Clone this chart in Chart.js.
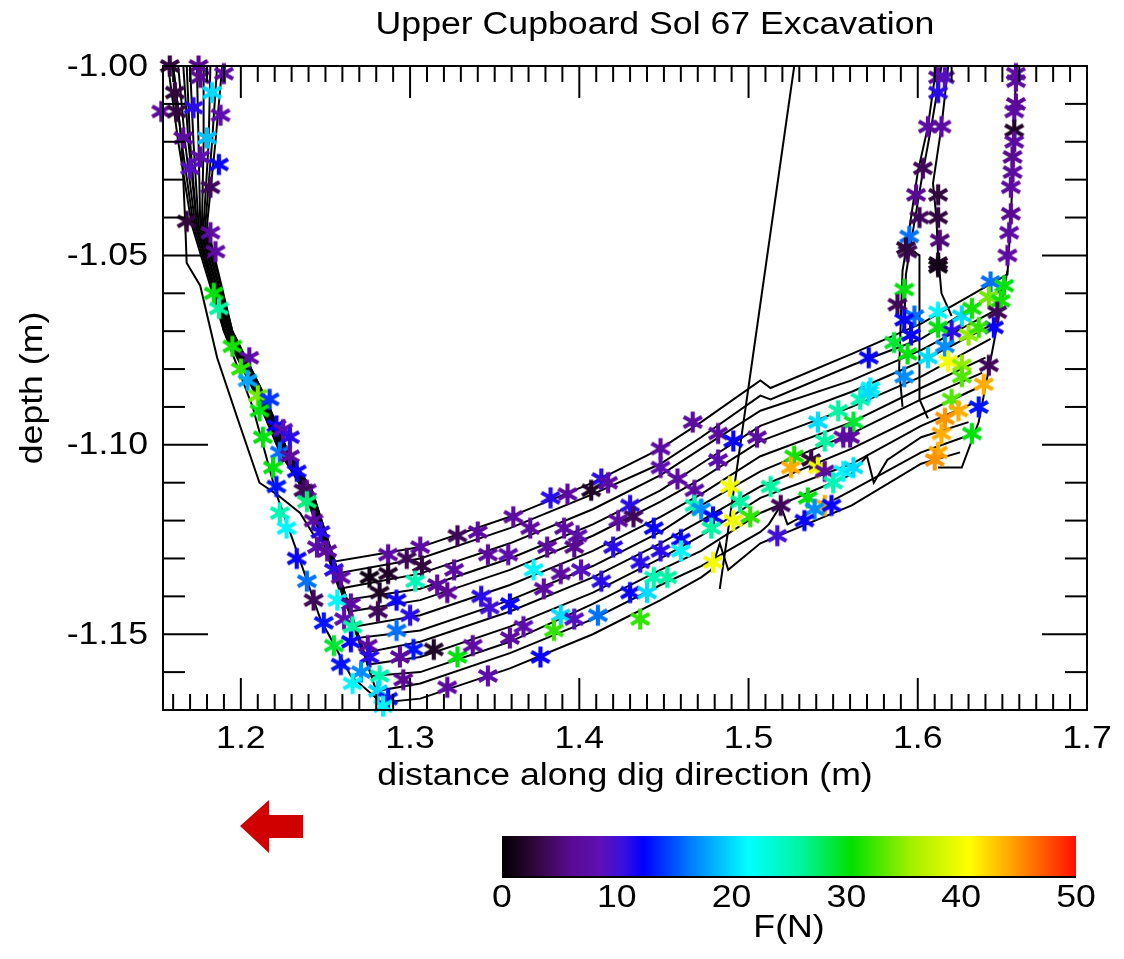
<!DOCTYPE html>
<html>
<head>
<meta charset="utf-8">
<script src="https://cdn.jsdelivr.net/npm/chart.js@4.4.1/dist/chart.umd.min.js"></script>
<style>
  html, body { margin: 0; padding: 0; background: #fff; }
</style>
</head>
<body>
<canvas id="digChart" width="1124" height="959"></canvas>
<script>
// axis ticks
const xTickLabels = [1.2, 1.3, 1.4, 1.5, 1.6, 1.7];
const yTickLabels = [-1.00, -1.05, -1.10, -1.15];
const forceTickLabels = [0, 10, 20, 30, 40, 50];

// scoop trajectories [distance, depth]
const pass0 = [[1.160,-1.000],[1.165,-1.020],[1.167,-1.040],[1.168,-1.052],[1.176,-1.058],[1.186,-1.077],[1.198,-1.093],[1.211,-1.110],[1.221,-1.113],[1.235,-1.118],[1.253,-1.131],[1.306,-1.127],[1.359,-1.119],[1.408,-1.110],[1.448,-1.101],[1.472,-1.094],[1.507,-1.083],[1.513,-1.085],[1.561,-1.076],[1.602,-1.068],[1.653,-1.055],[1.655,-1.040],[1.657,-1.020],[1.658,-1.000]];
const pass1 = [[1.157,-1.000],[1.163,-1.020],[1.171,-1.042],[1.190,-1.070],[1.209,-1.087],[1.223,-1.102],[1.237,-1.112],[1.256,-1.134],[1.306,-1.130],[1.359,-1.122],[1.408,-1.113],[1.448,-1.105],[1.472,-1.098],[1.507,-1.087],[1.513,-1.088],[1.561,-1.079],[1.602,-1.072],[1.650,-1.059]];
const pass2 = [[1.160,-1.000],[1.165,-1.020],[1.172,-1.042],[1.191,-1.070],[1.210,-1.087],[1.224,-1.102],[1.238,-1.112],[1.258,-1.138],[1.306,-1.134],[1.359,-1.126],[1.408,-1.117],[1.448,-1.108],[1.472,-1.101],[1.507,-1.091],[1.561,-1.083],[1.602,-1.075],[1.648,-1.064]];
const pass3 = [[1.163,-1.000],[1.167,-1.020],[1.173,-1.042],[1.192,-1.070],[1.211,-1.087],[1.225,-1.102],[1.239,-1.112],[1.261,-1.141],[1.306,-1.138],[1.359,-1.130],[1.408,-1.121],[1.448,-1.112],[1.472,-1.105],[1.507,-1.095],[1.561,-1.086],[1.602,-1.078],[1.645,-1.068]];
const pass4 = [[1.166,-1.000],[1.169,-1.020],[1.174,-1.042],[1.192,-1.070],[1.211,-1.087],[1.225,-1.102],[1.239,-1.112],[1.264,-1.144],[1.306,-1.141],[1.359,-1.133],[1.408,-1.124],[1.448,-1.115],[1.472,-1.109],[1.507,-1.099],[1.561,-1.090],[1.602,-1.082],[1.643,-1.072]];
const pass5 = [[1.170,-1.000],[1.172,-1.020],[1.175,-1.042],[1.193,-1.070],[1.212,-1.087],[1.226,-1.102],[1.240,-1.112],[1.267,-1.148],[1.306,-1.145],[1.359,-1.137],[1.408,-1.128],[1.448,-1.119],[1.472,-1.113],[1.507,-1.103],[1.561,-1.094],[1.602,-1.085],[1.640,-1.077]];
const pass6 = [[1.174,-1.000],[1.175,-1.020],[1.176,-1.042],[1.193,-1.070],[1.212,-1.087],[1.226,-1.102],[1.240,-1.112],[1.269,-1.151],[1.306,-1.149],[1.359,-1.141],[1.408,-1.132],[1.448,-1.123],[1.472,-1.116],[1.507,-1.107],[1.561,-1.097],[1.602,-1.088],[1.638,-1.081]];
const pass7 = [[1.178,-1.000],[1.178,-1.020],[1.177,-1.042],[1.194,-1.070],[1.213,-1.087],[1.227,-1.102],[1.241,-1.112],[1.272,-1.155],[1.306,-1.152],[1.359,-1.144],[1.408,-1.135],[1.448,-1.126],[1.472,-1.120],[1.507,-1.111],[1.561,-1.101],[1.602,-1.092],[1.635,-1.085]];
const pass8 = [[1.182,-1.000],[1.181,-1.020],[1.178,-1.042],[1.194,-1.070],[1.213,-1.087],[1.227,-1.102],[1.241,-1.112],[1.275,-1.158],[1.306,-1.156],[1.359,-1.148],[1.408,-1.139],[1.448,-1.130],[1.472,-1.124],[1.507,-1.114],[1.561,-1.105],[1.602,-1.095],[1.633,-1.089]];
const pass9 = [[1.186,-1.000],[1.183,-1.020],[1.179,-1.042],[1.195,-1.070],[1.214,-1.087],[1.228,-1.102],[1.242,-1.112],[1.277,-1.161],[1.306,-1.160],[1.359,-1.152],[1.408,-1.142],[1.448,-1.133],[1.472,-1.128],[1.507,-1.118],[1.560,-1.108],[1.570,-1.103],[1.574,-1.110],[1.582,-1.104],[1.602,-1.098],[1.630,-1.094]];
const pass10 = [[1.189,-1.000],[1.185,-1.020],[1.180,-1.042],[1.195,-1.070],[1.214,-1.087],[1.228,-1.102],[1.242,-1.112],[1.280,-1.165],[1.306,-1.163],[1.359,-1.155],[1.408,-1.146],[1.448,-1.137],[1.472,-1.132],[1.507,-1.123],[1.512,-1.121],[1.519,-1.116],[1.523,-1.121],[1.561,-1.112],[1.602,-1.102],[1.627,-1.098]];
const pass11 = [[1.168,-1.000],[1.170,-1.020],[1.174,-1.042],[1.190,-1.070],[1.207,-1.090],[1.221,-1.113],[1.233,-1.128],[1.247,-1.146],[1.265,-1.161],[1.283,-1.168],[1.306,-1.167],[1.359,-1.159],[1.408,-1.150],[1.448,-1.141],[1.472,-1.135],[1.478,-1.133],[1.483,-1.126],[1.488,-1.133],[1.507,-1.126],[1.561,-1.116],[1.602,-1.105],[1.625,-1.102]];
const retractA = [[1.611,-1.000],[1.606,-1.016],[1.600,-1.028],[1.594,-1.046],[1.591,-1.054],[1.590,-1.067],[1.589,-1.080],[1.591,-1.090]];
const retractA2 = [[1.614,-1.000],[1.608,-1.016],[1.603,-1.028],[1.597,-1.044],[1.593,-1.055],[1.592,-1.068]];
const retractB = [[1.618,-1.000],[1.614,-1.016],[1.609,-1.031],[1.611,-1.040],[1.612,-1.050],[1.614,-1.060],[1.620,-1.066]];
const retractC = [[1.594,-1.048],[1.601,-1.050],[1.601,-1.070],[1.601,-1.088],[1.606,-1.093]];
const rightWall = [[1.612,-1.106],[1.626,-1.106],[1.636,-1.094],[1.645,-1.073],[1.653,-1.054]];
const straightPath = [[1.527,-1.000],[1.483,-1.138]];

// force samples [distance, depth, F(N)]
const topLeftStars = [[1.158,-1.000,3],[1.175,-1.000,6],[1.190,-1.002,7],[1.183,-1.007,20],[1.153,-1.012,7],[1.162,-1.012,3],[1.172,-1.011,11],[1.188,-1.013,8],[1.166,-1.019,7],[1.180,-1.019,19],[1.176,-1.024,8],[1.187,-1.026,12],[1.170,-1.027,9],[1.182,-1.032,4],[1.168,-1.041,3],[1.182,-1.044,7],[1.185,-1.049,7],[1.161,-1.007,3],[1.176,-1.003,6]];
const leftWallStars = [[1.184,-1.060,30],[1.187,-1.064,26],[1.195,-1.074,31],[1.205,-1.077,7],[1.200,-1.080,32],[1.204,-1.083,18],[1.210,-1.087,34],[1.217,-1.088,14],[1.211,-1.091,30],[1.221,-1.095,12],[1.225,-1.096,8],[1.213,-1.098,30],[1.229,-1.098,11],[1.223,-1.102,16],[1.229,-1.103,7],[1.233,-1.107,12],[1.219,-1.106,30],[1.221,-1.111,13],[1.239,-1.112,7],[1.237,-1.112,4],[1.223,-1.118,25],[1.239,-1.115,27],[1.227,-1.122,21],[1.243,-1.120,7],[1.247,-1.123,11],[1.245,-1.127,8],[1.233,-1.130,12],[1.251,-1.128,7],[1.255,-1.133,11],[1.259,-1.135,7],[1.239,-1.136,16],[1.243,-1.141,4],[1.257,-1.141,21],[1.265,-1.142,7],[1.249,-1.147,13],[1.261,-1.146,8],[1.266,-1.148,26],[1.265,-1.152,12],[1.255,-1.153,29],[1.275,-1.153,7],[1.276,-1.156,11],[1.259,-1.158,13],[1.271,-1.160,17],[1.282,-1.161,25],[1.266,-1.163,21],[1.281,-1.165,20],[1.287,-1.167,13],[1.284,-1.169,21]];
const floorStars = [[1.287,-1.129,7],[1.306,-1.127,7],[1.328,-1.124,4],[1.340,-1.123,7],[1.361,-1.119,7],[1.371,-1.122,7],[1.276,-1.135,1],[1.287,-1.134,2],[1.282,-1.139,2],[1.298,-1.130,4],[1.307,-1.132,3],[1.303,-1.136,25],[1.292,-1.141,12],[1.281,-1.144,4],[1.300,-1.145,11],[1.292,-1.149,16],[1.302,-1.154,13],[1.294,-1.156,7],[1.296,-1.162,6],[1.314,-1.154,2],[1.328,-1.156,30],[1.322,-1.164,7],[1.346,-1.161,8],[1.326,-1.133,7],[1.316,-1.137,7],[1.322,-1.139,6],[1.346,-1.129,7],[1.358,-1.129,8],[1.342,-1.140,11],[1.347,-1.143,10],[1.359,-1.142,12],[1.367,-1.148,8],[1.359,-1.151,7],[1.337,-1.153,7],[1.373,-1.133,21],[1.413,-1.109,11],[1.407,-1.112,2],[1.417,-1.110,7],[1.448,-1.101,7],[1.448,-1.106,8],[1.467,-1.094,7],[1.393,-1.113,7],[1.383,-1.114,11],[1.391,-1.122,7],[1.399,-1.124,8],[1.381,-1.127,7],[1.397,-1.127,6],[1.389,-1.134,7],[1.379,-1.138,7],[1.401,-1.133,9],[1.413,-1.136,11],[1.420,-1.127,11],[1.430,-1.116,11],[1.432,-1.119,4],[1.423,-1.120,7],[1.444,-1.122,12],[1.448,-1.128,11],[1.460,-1.125,12],[1.460,-1.128,21],[1.458,-1.109,7],[1.468,-1.112,7],[1.468,-1.116,25],[1.436,-1.131,11],[1.430,-1.139,12],[1.440,-1.139,20],[1.444,-1.135,25],[1.452,-1.135,26],[1.389,-1.145,20],[1.385,-1.149,32],[1.397,-1.146,9],[1.411,-1.145,16],[1.436,-1.146,32],[1.377,-1.156,12]];
const midStars = [[1.482,-1.097,7],[1.491,-1.099,12],[1.505,-1.098,7],[1.482,-1.104,8],[1.541,-1.094,20],[1.553,-1.091,26],[1.566,-1.088,25],[1.572,-1.085,21],[1.562,-1.094,29],[1.545,-1.099,26],[1.556,-1.098,7],[1.560,-1.098,7],[1.527,-1.103,31],[1.537,-1.104,3],[1.541,-1.106,40],[1.525,-1.106,44],[1.545,-1.107,7],[1.556,-1.107,21],[1.562,-1.106,20],[1.550,-1.110,25],[1.489,-1.111,40],[1.513,-1.111,26],[1.495,-1.115,26],[1.472,-1.117,17],[1.479,-1.119,12],[1.491,-1.120,40],[1.501,-1.119,32],[1.519,-1.116,4],[1.535,-1.114,30],[1.545,-1.116,44],[1.549,-1.116,12],[1.539,-1.117,17],[1.533,-1.120,12],[1.478,-1.122,26],[1.517,-1.124,10],[1.479,-1.131,40]];
const rightStars = [[1.594,-1.049,4],[1.612,-1.052,2],[1.653,-1.050,7],[1.592,-1.059,30],[1.588,-1.063,4],[1.643,-1.057,16],[1.651,-1.058,30],[1.598,-1.066,16],[1.592,-1.067,12],[1.612,-1.065,21],[1.626,-1.066,20],[1.632,-1.064,31],[1.642,-1.061,34],[1.649,-1.062,31],[1.647,-1.065,4],[1.645,-1.069,12],[1.620,-1.070,11],[1.612,-1.069,30],[1.586,-1.073,29],[1.596,-1.071,12],[1.594,-1.076,30],[1.616,-1.074,17],[1.630,-1.071,35],[1.636,-1.069,32],[1.606,-1.077,20],[1.618,-1.078,40],[1.626,-1.079,35],[1.626,-1.082,33],[1.642,-1.079,4],[1.592,-1.082,17],[1.571,-1.077,12],[1.571,-1.086,20],[1.639,-1.084,44],[1.620,-1.088,33],[1.636,-1.090,13],[1.624,-1.091,44],[1.616,-1.093,45],[1.614,-1.097,44],[1.632,-1.097,30],[1.612,-1.102,44],[1.610,-1.104,45]];
const upperRightStars = [[1.612,-1.003,7],[1.616,-1.003,9],[1.612,-1.007,11],[1.606,-1.016,7],[1.614,-1.016,7],[1.603,-1.027,4],[1.599,-1.034,6],[1.601,-1.040,4],[1.612,-1.034,3],[1.612,-1.040,3],[1.613,-1.046,5],[1.612,-1.053,1],[1.595,-1.045,16],[1.593,-1.048,3],[1.658,-1.002,7],[1.658,-1.004,7],[1.658,-1.010,6],[1.657,-1.012,7],[1.657,-1.017,2],[1.657,-1.020,7],[1.656,-1.024,6],[1.656,-1.028,7],[1.655,-1.032,7],[1.655,-1.039,6],[1.654,-1.044,7]];

// colour table for F(N)
const cmapStops = [[0,'#000000'],[3,'#32083e'],[6,'#5a0a92'],[8.5,'#5e10b4'],[10.5,'#3a10e0'],[12.3,'#0000ff'],[16.5,'#0080ff'],[21.4,'#00ffff'],[26,'#00f5a0'],[30.4,'#00e000'],[35.5,'#a0ee00'],[40.7,'#ffff00'],[44.5,'#ffa000'],[50,'#ff1000']];

const FONT = '"Liberation Sans", Arial, sans-serif';
const STRETCH = 1.15;

function hexRgb(h) {
  return [parseInt(h.slice(1,3),16), parseInt(h.slice(3,5),16), parseInt(h.slice(5,7),16)];
}

function forceColor(f) {
  for (let i = 1; i < cmapStops.length; i++) {
    const [f1, c1] = cmapStops[i];
    if (f <= f1) {
      const [f0, c0] = cmapStops[i-1];
      const t = (f - f0) / (f1 - f0);
      const a = hexRgb(c0), b = hexRgb(c1);
      return 'rgb(' + a.map((v, k) => Math.round(v + (b[k]-v)*t)).join(',') + ')';
    }
  }
  return cmapStops[cmapStops.length-1][1];
}

const starCache = {};
function starImage(color) {
  if (starCache[color]) return starCache[color];
  const c = document.createElement('canvas');
  c.width = 26; c.height = 26;
  const g = c.getContext('2d');
  g.strokeStyle = color;
  g.lineWidth = 4.2;
  g.translate(13, 13);
  for (const deg of [90, 30, -30]) {
    const r = deg * Math.PI / 180, dx = Math.cos(r) * 10.5, dy = Math.sin(r) * 10.5;
    g.beginPath(); g.moveTo(-dx, -dy); g.lineTo(dx, dy); g.stroke();
  }
  starCache[color] = c;
  return c;
}

function label(ctx, s, x, y, align, size, rot) {
  ctx.save();
  ctx.translate(x, y);
  if (rot) ctx.rotate(rot);
  ctx.scale(STRETCH, 1);
  ctx.font = size + 'px ' + FONT;
  ctx.textAlign = align;
  ctx.fillStyle = '#000';
  ctx.fillText(s, 0, 0);
  ctx.restore();
}

const decor = {
  id: 'decor',
  afterDatasetsDraw(chart) {
    const {ctx, chartArea: a, scales: {x, y}} = chart;
    ctx.save();
    ctx.strokeStyle = '#000';
    ctx.lineWidth = 2;
    const seg = (x0, y0, x1, y1) => { ctx.beginPath(); ctx.moveTo(x0, y0); ctx.lineTo(x1, y1); ctx.stroke(); };
    ctx.strokeRect(a.left, a.top, a.right - a.left, a.bottom - a.top);

    // minor / major ticks, pointing inward on all four sides
    for (let k = 115; k <= 170; k++) {
      const px = x.getPixelForValue(k / 100);
      if (px <= a.left + 1 || px >= a.right - 1) continue;
      const len = k % 10 === 0 ? 32 : 16;
      seg(px, a.bottom, px, a.bottom - len);
      seg(px, a.top, px, a.top + len);
    }
    for (let k = 101; k <= 116; k++) {
      const py = y.getPixelForValue(-k / 100);
      const len = k % 5 === 0 ? 45 : 22;
      seg(a.left, py, a.left + len, py);
      seg(a.right, py, a.right - len, py);
    }

    ctx.textBaseline = 'alphabetic';
    xTickLabels.forEach(v => label(ctx, v.toFixed(1), x.getPixelForValue(v), a.bottom + 38, 'center', 31));
    ctx.textBaseline = 'middle';
    yTickLabels.forEach(v => label(ctx, v.toFixed(2), a.left - 15, y.getPixelForValue(v) + 1, 'right', 31));
    ctx.textBaseline = 'alphabetic';

    label(ctx, 'Upper Cupboard Sol 67 Excavation', 655, 34, 'center', 31);
    label(ctx, 'distance along dig direction (m)', 625, 785, 'center', 31);
    label(ctx, 'depth (m)', 42, 388, 'center', 31, -Math.PI / 2);

    // colour bar
    const cb = {left: 502, right: 1076, top: 836, bottom: 877};
    const grad = ctx.createLinearGradient(cb.left, 0, cb.right, 0);
    cmapStops.forEach(([f, c]) => grad.addColorStop(f / 50, c));
    ctx.fillStyle = grad;
    ctx.fillRect(cb.left, cb.top, cb.right - cb.left, cb.bottom - cb.top);
    seg(cb.left, cb.bottom, cb.right, cb.bottom);
    forceTickLabels.forEach(v => {
      const px = cb.left + (cb.right - cb.left) * v / 50;
      label(ctx, String(v), px, 907, 'center', 31);
    });
    label(ctx, 'F(N)', 789, 937, 'center', 31);

    // dig direction arrow
    ctx.fillStyle = '#d00000';
    ctx.beginPath();
    ctx.moveTo(240, 826);
    ctx.lineTo(269, 800);
    ctx.lineTo(269, 815);
    ctx.lineTo(303, 815);
    ctx.lineTo(303, 838);
    ctx.lineTo(269, 838);
    ctx.lineTo(269, 853);
    ctx.closePath();
    ctx.fill();
    ctx.restore();
  }
};

const traces = [pass0, pass1, pass2, pass3, pass4, pass5, pass6, pass7, pass8, pass9, pass10, pass11,
  retractA, retractA2, retractB, retractC, rightWall, straightPath];
const allStars = [...topLeftStars, ...leftWallStars, ...floorStars, ...midStars, ...rightStars, ...upperRightStars];

const datasets = traces.map(pts => ({
  data: pts.map(([x, y]) => ({x, y})),
  showLine: true,
  borderColor: '#000',
  borderWidth: 2,
  pointRadius: 0,
  tension: 0,
  order: 2
}));
datasets.push({
  data: allStars.map(([x, y, f]) => ({x, y, f})),
  showLine: false,
  pointRadius: 10,
  pointStyle: c => (c.raw ? starImage(forceColor(c.raw.f)) : 'circle'),
  clip: false,
  order: 1
});

new Chart(document.getElementById('digChart'), {
  type: 'scatter',
  data: {datasets},
  options: {
    responsive: false,
    animation: false,
    devicePixelRatio: 1,
    events: [],
    layout: {padding: {left: 163, top: 66, right: 37, bottom: 249}},
    scales: {
      x: {type: 'linear', min: 1.154, max: 1.7, display: false},
      y: {type: 'linear', min: -1.17, max: -1.0, display: false}
    },
    plugins: {legend: {display: false}, tooltip: {enabled: false}}
  },
  plugins: [decor]
});
</script>
</body>
</html>
